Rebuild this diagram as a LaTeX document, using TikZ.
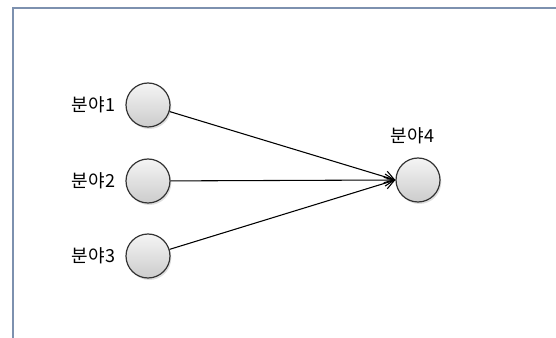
\documentclass[tikz,border=0pt]{standalone}
\usepackage{fontspec}
\setmainfont{Noto Sans CJK KR}[LetterSpace=4]
\usetikzlibrary{positioning, arrows.meta, shadows}

\definecolor{framecol}{RGB}{125,145,175}

\tikzset{
    field/.style={circle, draw=black!80, line width=0.9pt, minimum size=33pt,
        top color=gray!8, bottom color=gray!40,
        drop shadow={shadow xshift=1pt, shadow yshift=-1.5pt, opacity=0.25}},
    label text/.style={font=\fontsize{13.5}{15}\selectfont, inner sep=1pt},
    link/.style={-{Straight Barb[length=7pt, width=9pt]}, line width=0.8pt}
}

\begin{document}
\begin{tikzpicture}[x=0.75pt, y=-0.75pt]

    % page size
    \useasboundingbox (0,0) rectangle (556,338);

    % outer frame
    \draw[framecol, line width=1.2pt] (13,360) -- (13,8) -- (580,8);

    % source fields
    \node[field] (f1) at (148,105) {};
    \node[field] (f2) at (148,181) {};
    \node[field] (f3) at (148,256) {};

    % target field
    \node[field] (f4) at (418,180) {};

    % labels
    \node[label text, left=6pt of f1] (l1) {분야1};
    \node[label text, left=6pt of f2] (l2) {분야2};
    \node[label text, left=6pt of f3] (l3) {분야3};
    \node[label text, above=9pt of f4, xshift=-4pt] (l4) {분야4};

    % links
    \draw[link] (f1) -- (f4.west);
    \draw[link] (f2) -- (f4.west);
    \draw[link] (f3) -- (f4.west);

\end{tikzpicture}
\end{document}
